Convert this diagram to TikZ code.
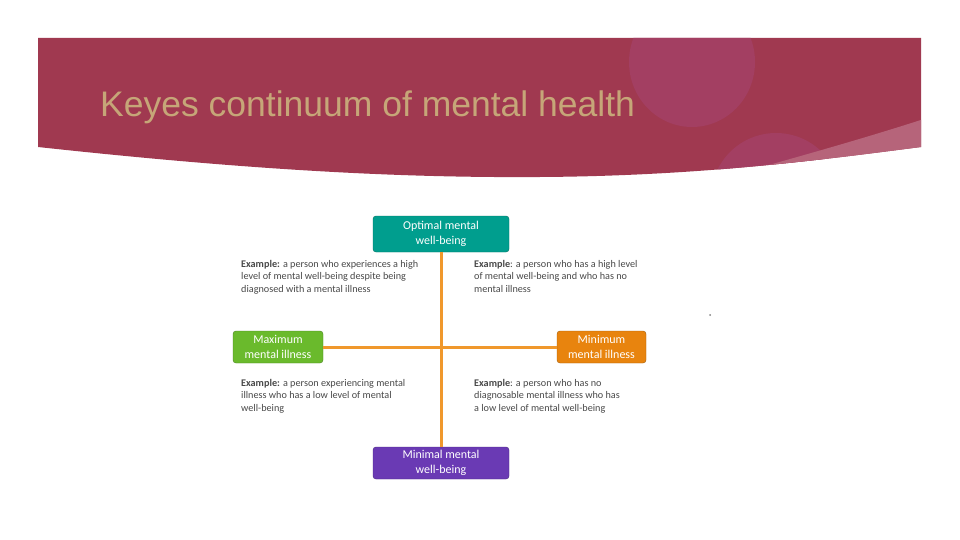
\documentclass[tikz,border=0pt]{standalone}
\usepackage{fontspec}
\setmainfont{Carlito}
\newfontfamily\titlefont{Liberation Sans}
\usepackage{tikz}
\usepackage{xcolor}
\definecolor{bannerred}{RGB}{160,57,80}
\definecolor{bannerpink}{RGB}{163,63,98}
\definecolor{stripepink}{RGB}{182,100,122}
\definecolor{titletan}{RGB}{198,166,120}
\definecolor{optteal}{RGB}{0,158,142}
\definecolor{illgreen}{RGB}{106,186,44}
\definecolor{illorange}{RGB}{232,132,14}
\definecolor{minpurple}{RGB}{106,58,180}
\definecolor{axisorange}{RGB}{240,152,44}
\definecolor{exgray}{RGB}{72,72,72}

\tikzset{
  statebox/.style={rectangle, rounded corners=3pt, draw=#1!70!black, fill=#1,
    text=white, align=center, inner sep=0pt, minimum height=32pt,
    font=\fontsize{12}{15}\selectfont},
  example/.style={anchor=north west, align=left, inner sep=0pt, text=exgray,
    font=\fontsize{10.2}{12.5}\selectfont},
  axis/.style={axisorange, line width=3pt}
}

\begin{document}
\begin{tikzpicture}[x=1pt, y=-1pt]
\useasboundingbox (0,0) rectangle (960,540);
% Title banner
\begin{scope}
\clip (38,38) -- (921,38) -- (921,147)
  .. controls (820,160) and (700,176) .. (540,177)
  .. controls (400,178) and (250,170) .. (38,147) -- cycle;
\fill[bannerred] (0,0) rectangle (960,200);
\fill[bannerpink] (692,62) ellipse (63 and 65);
\fill[bannerpink] (776,198) circle (65);
\fill[stripepink] (640,200) .. controls (760,168) and (860,140) .. (930,117)
  -- (960,117) -- (960,200) -- cycle;
\end{scope}
\node[anchor=base west, inner sep=0pt, text=titletan,
  font=\titlefont\fontsize{35.5}{40}\selectfont] (title) at (100,117)
  {Keyes continuum of mental health};

% Quadrant boxes
\node[statebox=optteal, minimum width=136pt, minimum height=36pt] (optimal) at (441,234) {Optimal mental\\well-being};
\node[statebox=minpurple, minimum width=136pt] (minimal) at (441,463) {Minimal mental\\well-being};
\node[statebox=illgreen, minimum width=90pt] (maxill) at (278,347) {Maximum\\mental illness};
\node[statebox=illorange, minimum width=89pt] (minill) at (601.5,347) {Minimum\\mental illness};

\draw[axis] (optimal) -- (minimal);
\draw[axis] (maxill) -- (minill);

% Examples
\node[example] (extl) at (241,260) {\textbf{Example:} a person who experiences a high\\level of mental well-being despite being\\diagnosed with a mental illness};
\node[example] (extr) at (474,260) {\textbf{Example}: a person who has a high level\\of mental well-being and who has no\\mental illness};
\node[example] (exbl) at (241,379) {\textbf{Example:} a person experiencing mental\\illness who has a low level of mental\\well-being};
\node[example] (exbr) at (474,379) {\textbf{Example}: a person who has no\\diagnosable mental illness who has\\a low level of mental well-being};

\fill[gray] (710,315) circle (1);
\end{tikzpicture}
\end{document}
